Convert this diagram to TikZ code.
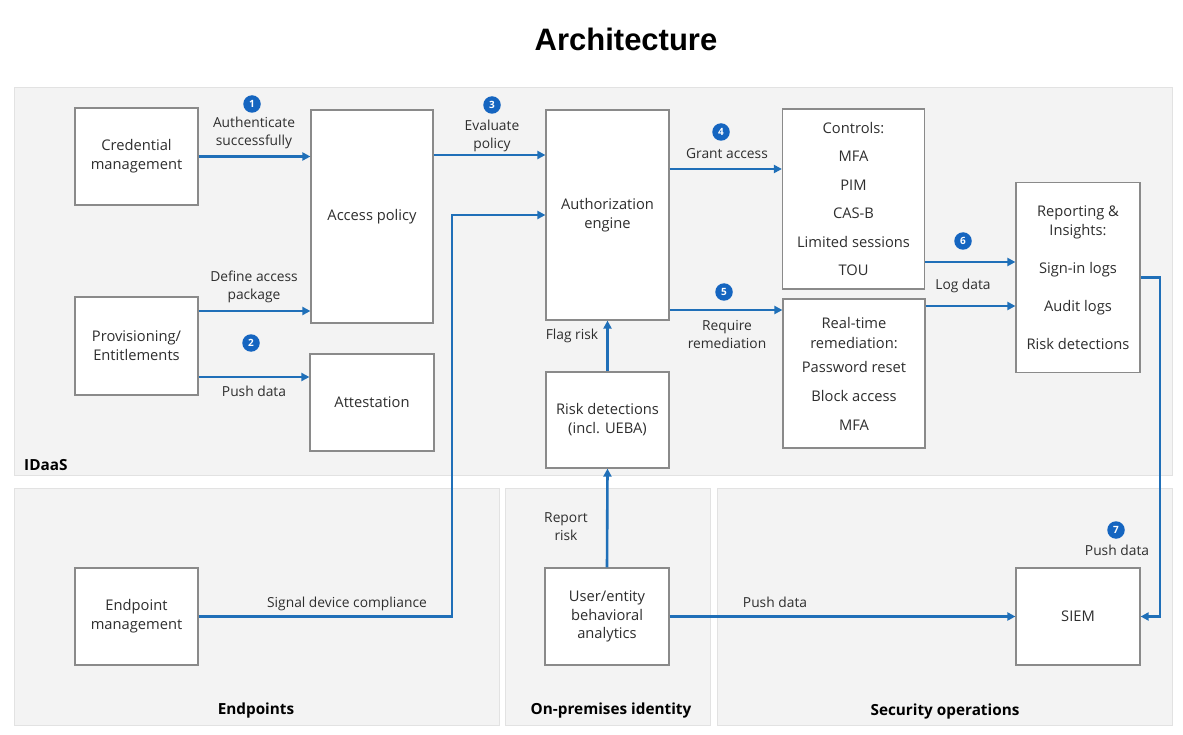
\documentclass[tikz,border=0pt]{standalone}
\usepackage{fontspec}
\setmainfont{Open Sans}
\newfontfamily\titlefont{Liberation Sans}
\usetikzlibrary{arrows.meta}
\definecolor{flow}{HTML}{1F6FB8}
\definecolor{badgeblue}{HTML}{1565C0}
\definecolor{panelfill}{HTML}{F3F3F3}
\definecolor{panelline}{HTML}{E2E2E2}
\definecolor{boxline}{HTML}{8A8A8A}
\definecolor{txt}{HTML}{2E2E2E}
\begin{document}
\begin{tikzpicture}[x=1pt,y=-1pt,
 panel/.style={fill=panelfill,draw=panelline,line width=1pt},
 blk/.style={draw=boxline,fill=white,line width=1.2pt,align=center,text=txt,font=\fontsize{14.7}{19}\selectfont,inner sep=0pt},
 lbl/.style={text=txt,font=\fontsize{13.8}{18}\selectfont,align=center,inner sep=0pt},
 arr/.style={draw=flow,line width=2.6pt,-{Triangle[length=8pt,width=8pt]}},
 badge/.style={circle,fill=badgeblue,text=white,inner sep=0pt,minimum size=17.5pt,font=\fontsize{10}{10}\bfseries\selectfont},
 plabel/.style={text=black,font=\fontsize{15.3}{17}\bfseries\selectfont,inner sep=0pt}
]
\useasboundingbox[fill=white] (0,0) rectangle (1183,735);
\node[font=\titlefont\fontsize{31}{33}\bfseries\selectfont,inner sep=0pt] (title) at (626,39) {Architecture};
% panels
\path[panel] (14,88) rectangle (1172,475);
\path[panel] (14,488) rectangle (499,725);
\path[panel] (505,488) rectangle (710,725);
\path[panel] (717,488) rectangle (1172,725);
\node[plabel,anchor=west] (pid) at (24,465) {IDaaS};
\node[plabel] (pend) at (256,711) {Endpoints};
\node[plabel] (pon) at (611,711) {On-premises identity};
\node[plabel] (psec) at (945,712) {Security operations};
% boxes
\node[blk,minimum width=123pt,minimum height=97pt] (cred) at (136.5,156.5) {Credential\\management};
\node[blk,minimum width=123pt,minimum height=98pt] (prov) at (136.5,346) {Provisioning/\\Entitlements};
\node[blk,minimum width=122pt,minimum height=213pt] (acc) at (372,216.5) {Access policy};
\node[blk,minimum width=124pt,minimum height=97pt] (att) at (372,402.5) {Attestation};
\node[blk,minimum width=123pt,minimum height=210pt] (auth) at (607.5,215) {Authorization\\engine};
\node[blk,minimum width=123pt,minimum height=96pt] (risk) at (607.5,420) {Risk detections\\(incl. UEBA)};
\node[blk,minimum width=142pt,minimum height=180pt,font=\fontsize{14.7}{28.5}\selectfont] (ctrl) at (853.5,199) {Controls:\\MFA\\PIM\\CAS-B\\Limited sessions\\TOU};
\node[blk,minimum width=142pt,minimum height=149pt,font=\fontsize{14.7}{20}\selectfont] (rem) at (854,373.5) {Real-time\\remediation:\\[4pt]Password reset\\[9pt]Block access\\[9pt]MFA};
\node[blk,minimum width=124pt,minimum height=190pt,font=\fontsize{14.7}{19}\selectfont] (rep) at (1078,277.5) {Reporting \&\\Insights:\\[19pt]Sign-in logs\\[19pt]Audit logs\\[19pt]Risk detections};
\node[blk,minimum width=123pt,minimum height=97pt] (endp) at (136.5,616.5) {Endpoint\\management};
\node[blk,minimum width=124pt,minimum height=97pt,font=\fontsize{14.7}{18.5}\selectfont] (ueba) at (607,616.5) {User/entity\\behavioral\\analytics};
\node[blk,minimum width=124pt,minimum height=97pt] (siem) at (1078,616.5) {SIEM};
% connectors
\draw[arr] (cred.east) -- (acc.west |- cred.east);
\coordinate (p1) at ([yshift=35pt]prov.east);
\draw[arr] (p1) -- (acc.west |- p1);
\coordinate (p2) at ([yshift=-31pt]prov.east);
\draw[arr] (p2) -- (att.west |- p2);
\coordinate (a1) at ([yshift=61.5pt]acc.east);
\draw[arr] (a1) -- (auth.west |- a1);
\coordinate (bend) at (452,215);
\draw[arr] (endp.east) -| (bend) -- (auth.west);
\coordinate (g1) at ([yshift=46pt]auth.east);
\draw[arr] (g1) -- (ctrl.west |- g1);
\coordinate (g2) at ([yshift=-95pt]auth.east);
\draw[arr] (g2) -- (rem.west |- g2);
\draw[arr] (risk.north) -- (auth.south);
\draw[arr] (ueba.north) -- (risk.south);
\coordinate (c1) at ([yshift=-63pt]ctrl.east);
\draw[arr] (c1) -- (rep.west |- c1);
\coordinate (r1) at ([yshift=67.5pt]rem.east);
\draw[arr] (r1) -- (rep.west |- r1);
\draw[arr] (ueba.east) -- (siem.west);
\coordinate (turn) at (1160,277.5);
\draw[arr] (rep.east) -- (turn) |- (siem.east);
% labels
\node[lbl] (l1) at (254,133) {Authenticate\\successfully};
\node[lbl] (l2) at (254,286.5) {Define access\\package};
\node[lbl] (l3) at (254,391) {Push data};
\node[lbl] (l4) at (492,136) {Evaluate\\policy};
\node[lbl] (l5) at (347,604) {Signal device compliance};
\node[lbl] (l6) at (727,154) {Grant access};
\node[lbl] (l7) at (727,335) {Require\\remediation};
\node[lbl] (l8) at (572,336) {Flag risk};
\node[lbl] (l9) at (566,527) {Report\\risk};
\node[lbl] (l10) at (963,286) {Log data};
\node[lbl] (l11) at (775,602) {Push data};
\node[lbl] (l12) at (1117,550) {Push data};
% badges
\node[badge] (b1) at (252,104) {1};
\node[badge] (b2) at (251,343) {2};
\node[badge] (b3) at (492,105) {3};
\node[badge] (b4) at (721,132) {4};
\node[badge] (b5) at (724,292) {5};
\node[badge] (b6) at (963,241) {6};
\node[badge] (b7) at (1116,530) {7};
\end{tikzpicture}
\end{document}
